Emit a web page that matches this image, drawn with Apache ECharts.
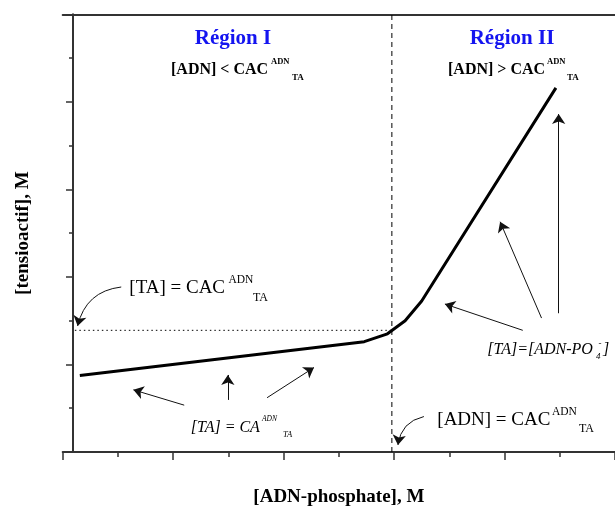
<!DOCTYPE html>
<html>
<head>
<meta charset="utf-8">
<script src="https://cdn.jsdelivr.net/npm/echarts@6/dist/echarts.min.js"></script>
<style>html,body{margin:0;padding:0;background:#fff}#c{width:615px;height:512px}</style>
</head>
<body>
<div id="c"></div>
<script>
// ---- data (arbitrary schematic units) ----
const curveX = [0.31, 5.46, 5.88, 6.20, 6.50, 8.93];
const curveY = [1.75, 2.52, 2.70, 3.00, 3.45, 8.32];
const cmcX = 5.96;          // [ADN] = CAC (vertical dashed line)
const cmcY = 2.78;          // [TA] = CAC (horizontal dotted line)
const dottedStartX = 0.22;
const xAxisRange = [0, 10];
const yAxisRange = [0, 10];
// annotation arrows (data units): start, end, bend
const arrowFrom = [[1.06, 3.77], [2.20, 1.07], [2.99, 1.19], [3.70, 1.24], [6.54, 0.81], [8.33, 2.78], [8.67, 3.06], [8.98, 3.17]];
const arrowTo   = [[0.27, 2.88], [1.28, 1.42], [2.99, 1.76], [4.55, 1.93], [6.07, 0.16], [6.92, 3.38], [7.92, 5.26], [8.98, 7.72]];
const arrowBend = [-0.35, 0, 0, 0, -0.35, 0, 0, 0];

const serif = '"Liberation Serif", "Times New Roman", serif';
const chart = echarts.init(document.getElementById('c'), null, {renderer: 'canvas'});

const curveData = curveX.map((x, i) => [x, curveY[i]]);
const arrowData = arrowFrom.map((f, i) => ({
  coords: [f, arrowTo[i]],
  lineStyle: {curveness: arrowBend[i]}
}));

function txt(text, x, y, font, opts) {
  return {
    type: 'text', x: x, y: y, silent: true,
    style: Object.assign({text: text, font: font, fill: '#000', textAlign: 'left', textVerticalAlign: 'middle'}, (opts || {}))
  };
}

const axisColor = '#333';
chart.setOption({
  animation: false,
  grid: {left: 62.7, top: 14.3, width: 560, height: 440.7},
  xAxis: [{
    type: 'value', min: xAxisRange[0], max: xAxisRange[1], interval: 2,
    position: 'bottom',
    name: '[ADN-phosphate], M', nameLocation: 'middle', nameGap: 36,
    nameTextStyle: {fontFamily: serif, fontWeight: 'bold', fontSize: 19, color: '#000'},
    axisLine: {show: true, onZero: false, lineStyle: {color: axisColor, width: 2}},
    axisTick: {show: true, inside: false, length: 8, lineStyle: {color: axisColor, width: 1.5}},
    minorTick: {show: true, splitNumber: 2, length: 5, lineStyle: {color: axisColor, width: 1.5}},
    axisLabel: {show: false}, splitLine: {show: false}, minorSplitLine: {show: false}
  }, {
    type: 'value', min: xAxisRange[0], max: xAxisRange[1], position: 'top',
    axisLine: {show: true, onZero: false, lineStyle: {color: axisColor, width: 2}},
    axisTick: {show: false}, axisLabel: {show: false}, splitLine: {show: false}
  }],
  yAxis: [{
    type: 'value', min: yAxisRange[0], max: yAxisRange[1], interval: 2,
    offset: -10.3,
    name: '[tensioactif], M', nameLocation: 'middle', nameGap: 40,
    nameTextStyle: {fontFamily: serif, fontWeight: 'bold', fontSize: 19, color: '#000'},
    axisLine: {show: true, onZero: false, lineStyle: {color: axisColor, width: 2}},
    axisTick: {show: true, inside: false, length: 7, lineStyle: {color: axisColor, width: 1.5}},
    minorTick: {show: true, splitNumber: 2, length: 4, lineStyle: {color: axisColor, width: 1.5}},
    axisLabel: {show: false}, splitLine: {show: false}, minorSplitLine: {show: false}
  }],
  series: [
    {
      type: 'line', data: [[cmcX, yAxisRange[0]], [cmcX, yAxisRange[1]]],
      symbol: 'none', lineStyle: {color: '#000', width: 1, type: [5, 4]}, z: 2
    },
    {
      type: 'line', data: [[dottedStartX, cmcY], [cmcX, cmcY]],
      symbol: 'none', lineStyle: {color: '#000', width: 1, type: [1.5, 3]}, z: 2
    },
    {
      type: 'lines', coordinateSystem: 'cartesian2d', silent: true,
      symbol: ['none', 'arrow'], symbolSize: [5, 10],
      lineStyle: {color: '#111', width: 1, opacity: 1},
      itemStyle: {color: '#111'},
      data: arrowData, z: 3
    },
    {
      type: 'line', data: curveData,
      symbol: 'none', lineStyle: {color: '#000', width: 3}, z: 5
    }
  ],
  graphic: [
    txt('Région I', 233, 39, 'bold 21px ' + serif, {fill: '#1414f0', textAlign: 'center'}),
    txt('Région II', 512, 39, 'bold 21px ' + serif, {fill: '#1414f0', textAlign: 'center'}),

    txt('[ADN] < CAC', 171, 70, 'bold 16px ' + serif),
    txt('ADN', 271, 62, 'bold 8.5px ' + serif),
    txt('TA', 292, 78, 'bold 9px ' + serif),

    txt('[ADN] > CAC', 448, 70, 'bold 16px ' + serif),
    txt('ADN', 547, 62, 'bold 8.5px ' + serif),
    txt('TA', 567, 78, 'bold 9px ' + serif),

    txt('[TA] = CAC', 129.3, 288, '19px ' + serif),
    txt('ADN', 228.5, 280, '11.5px ' + serif),
    txt('TA', 253, 298, '12px ' + serif),

    txt('[ADN] = CAC', 437.3, 420, '19px ' + serif),
    txt('ADN', 552, 411.5, '11.5px ' + serif),
    txt('TA', 579, 429, '12px ' + serif),

    txt('[TA] = CA', 190.7, 428, 'italic 16px ' + serif),
    txt('ADN', 262, 419, 'italic 7.5px ' + serif),
    txt('TA', 283, 435, 'italic 8.5px ' + serif),

    txt('[TA]=[ADN-PO', 487.3, 349.3, 'italic 16px ' + serif),
    txt('4', 596, 357, 'italic 9px ' + serif),
    txt('-', 598.5, 344, 'italic 9px ' + serif),
    txt(']', 603, 349.3, 'italic 16px ' + serif)
  ]
});
</script>
</body>
</html>
